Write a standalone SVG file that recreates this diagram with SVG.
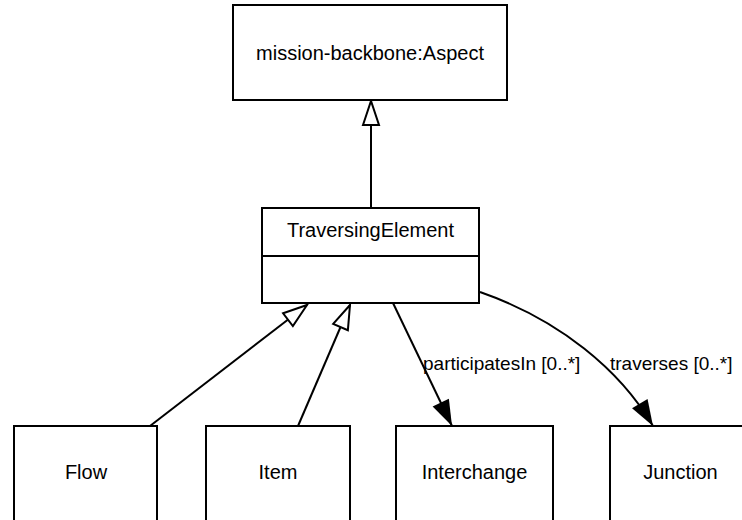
<svg xmlns="http://www.w3.org/2000/svg" width="742" height="520" viewBox="0 0 742 520">
<style>
.box{fill:#fff;stroke:#000;stroke-width:2}
.lbl{font-family:"Liberation Sans",Arial,sans-serif;font-size:20px;fill:#000;text-anchor:middle}
.elbl{font-family:"Liberation Sans",Arial,sans-serif;font-size:19px;fill:#000}
.edge{fill:none;stroke:#000;stroke-width:2}
</style>
<defs>
<marker id="gen" viewBox="0 0 28 20" markerWidth="28" markerHeight="20" refX="26" refY="10" orient="auto" markerUnits="userSpaceOnUse" overflow="visible">
<path d="M2,2 L26,10 L2,18 Z" fill="#fff" stroke="#000" stroke-width="2"/>
</marker>
<marker id="arr" viewBox="0 0 26 20" markerWidth="26" markerHeight="20" refX="26" refY="10" orient="auto" markerUnits="userSpaceOnUse" overflow="visible">
<path d="M0,1 L26,10 L0,19 Z" fill="#000"/>
</marker>
</defs>
<g id="connectors">
<path class="edge" d="M371,208 L371,101" marker-end="url(#gen)"/>
<path class="edge" d="M150,426 L307,305" marker-end="url(#gen)"/>
<path class="edge" d="M298,426 L350,305" marker-end="url(#gen)"/>
<path class="edge" d="M393,303 L452,426" marker-end="url(#arr)"/>
<path class="edge" d="M480,292 C560,320 620,370 653,426" marker-end="url(#arr)"/>
<text class="elbl" x="423" y="370">participatesIn [0..*]</text>
<text class="elbl" x="610" y="370">traverses [0..*]</text>
</g>
<g id="aspect">
<rect class="box" x="233" y="5" width="274" height="95"/>
<text class="lbl" x="370" y="60">mission-backbone:Aspect</text>
</g>
<g id="traversingElement">
<rect class="box" x="262" y="208" width="217" height="95"/>
<line x1="262" y1="256" x2="479" y2="256" stroke="#000" stroke-width="2"/>
<text class="lbl" x="370.5" y="237">TraversingElement</text>
</g>
<g id="flow">
<rect class="box" x="14" y="426" width="143" height="104"/>
<text class="lbl" x="86" y="479">Flow</text>
</g>
<g id="item">
<rect class="box" x="206" y="426" width="144" height="104"/>
<text class="lbl" x="278" y="479">Item</text>
</g>
<g id="interchange">
<rect class="box" x="396" y="426" width="157" height="104"/>
<text class="lbl" x="474.5" y="479">Interchange</text>
</g>
<g id="junction">
<rect class="box" x="610" y="426" width="142" height="104"/>
<text class="lbl" x="680.5" y="479">Junction</text>
</g>
</svg>
